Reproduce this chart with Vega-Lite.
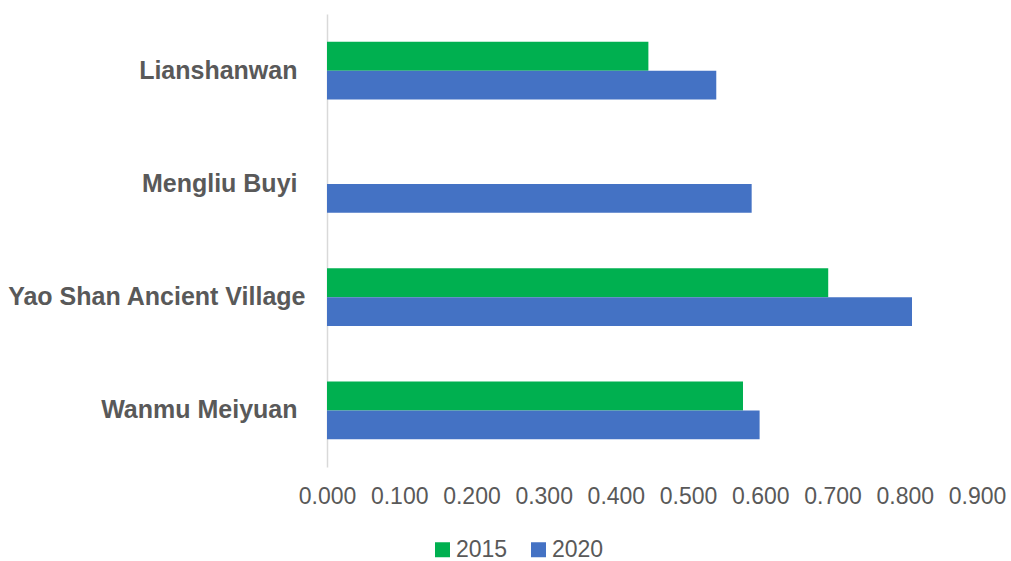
{
  "$schema": "https://vega.github.io/schema/vega-lite/v6.json",
  "autosize": "none",
  "width": 650,
  "height": 453,
  "padding": {"left": 327, "top": 14, "right": 34, "bottom": 94},
  "background": "white",
  "config": {
    "view": {"stroke": null},
    "font": "Liberation Sans"
  },
  "data": {
    "values": [
      {"site": "Lianshanwan", "year": "2015", "value": 0.445},
      {"site": "Lianshanwan", "year": "2020", "value": 0.539},
      {"site": "Mengliu Buyi", "year": "2020", "value": 0.588},
      {"site": "Yao Shan Ancient Village", "year": "2015", "value": 0.694},
      {"site": "Yao Shan Ancient Village", "year": "2020", "value": 0.810},
      {"site": "Wanmu Meiyuan", "year": "2015", "value": 0.576},
      {"site": "Wanmu Meiyuan", "year": "2020", "value": 0.599}
    ]
  },
  "mark": {"type": "bar"},
  "encoding": {
    "y": {
      "field": "site",
      "type": "nominal",
      "sort": ["Lianshanwan", "Mengliu Buyi", "Yao Shan Ancient Village", "Wanmu Meiyuan"],
      "scale": {"paddingInner": 0.488, "paddingOuter": 0.244},
      "axis": {
        "title": null,
        "ticks": false,
        "domainColor": "#d9d9d9",
        "domainWidth": 1.5,
        "labelFont": "Liberation Sans",
        "labelFontSize": 25,
        "labelFontWeight": "bold",
        "labelColor": "#595959",
        "labelPadding": {"condition": {"test": "datum.value == 'Yao Shan Ancient Village'", "value": 22}, "value": 30},
        "labelLimit": 400
      }
    },
    "yOffset": {
      "field": "year",
      "type": "nominal",
      "sort": ["2015", "2020"]
    },
    "x": {
      "field": "value",
      "type": "quantitative",
      "scale": {"domain": [0, 0.9], "nice": false},
      "axis": {
        "title": null,
        "values": [0, 0.1, 0.2, 0.3, 0.4, 0.5, 0.6, 0.7, 0.8, 0.9],
        "format": ".3f",
        "grid": false,
        "domain": false,
        "ticks": false,
        "labelFont": "Liberation Sans",
        "labelFontSize": 23,
        "labelColor": "#595959",
        "labelPadding": 18,
        "labelFlush": false,
        "labelOverlap": false
      }
    },
    "color": {
      "field": "year",
      "type": "nominal",
      "scale": {"domain": ["2015", "2020"], "range": ["#00B050", "#4472C4"]},
      "legend": {
        "title": null,
        "orient": "none",
        "direction": "horizontal",
        "legendX": 104,
        "legendY": 524,
        "padding": 0,
        "symbolType": "square",
        "symbolSize": 225,
        "symbolStrokeWidth": 0,
        "symbolOpacity": 1,
        "labelFont": "Liberation Sans",
        "labelFontSize": 23,
        "labelColor": "#595959",
        "labelOffset": 2,
        "columnPadding": 19
      }
    }
  }
}
